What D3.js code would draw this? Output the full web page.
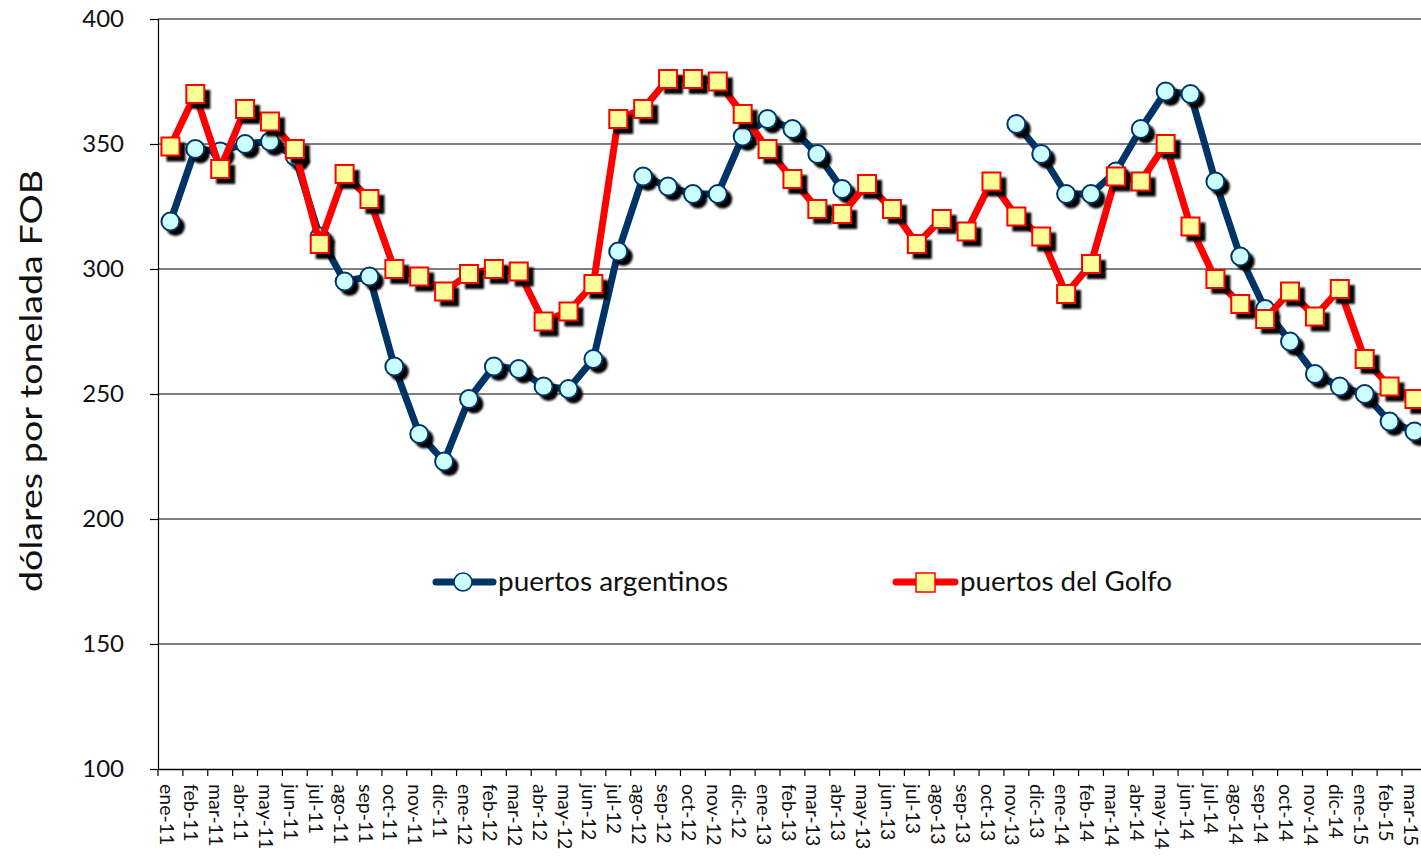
<!DOCTYPE html>
<html><head><meta charset="utf-8">
<script src="https://cdn.jsdelivr.net/npm/d3@7"></script>
<style>
html,body{margin:0;padding:0;background:#fff;overflow:hidden;}
svg{display:block;font-family:Lato,"Open Sans",sans-serif;}
</style></head>
<body>
<svg id="chart" width="1421" height="856"></svg>
<script>
const months = ["ene-11","feb-11","mar-11","abr-11","may-11","jun-11","jul-11","ago-11","sep-11","oct-11","nov-11","dic-11",
"ene-12","feb-12","mar-12","abr-12","may-12","jun-12","jul-12","ago-12","sep-12","oct-12","nov-12","dic-12",
"ene-13","feb-13","mar-13","abr-13","may-13","jun-13","jul-13","ago-13","sep-13","oct-13","nov-13","dic-13",
"ene-14","feb-14","mar-14","abr-14","may-14","jun-14","jul-14","ago-14","sep-14","oct-14","nov-14","dic-14",
"ene-15","feb-15","mar-15"];
const argentinos = [319,348,347,350,351,345,313,295,297,261,234,223,
248,261,260,253,252,264,307,337,333,330,330,353,
360,356,346,332,null,null,null,null,null,null,358,346,
330,330,339,356,371,370,335,305,284,271,258,253,
250,239,235];
const golfo = [349,370,340,364,359,348,310,338,328,300,297,291,
298,300,299,279,283,294,360,364,376,376,375,362,
348,336,324,322,334,324,310,320,315,335,321,313,
290,302,337,335,350,317,296,286,280,291,281,292,
264,253,248];
const yTicks = [100,150,200,250,300,350,400];
const seriesNames = ["puertos argentinos","puertos del Golfo"];

const svg = d3.select("#chart");
const mLeft = 158, mTop = 19, mBottom = 769, step = 24.88;
const x = d3.scaleBand().domain(months).range([mLeft, mLeft + step*months.length]).padding(0);
const y = d3.scaleLinear().domain([100,400]).range([mBottom, mTop]);

const defs = svg.append("defs");
const f = defs.append("filter").attr("id","sh").attr("x","-50%").attr("y","-50%").attr("width","200%").attr("height","200%");
f.append("feGaussianBlur").attr("stdDeviation",0.8);

// gridlines
svg.append("g").selectAll("line").data(yTicks.filter(d=>d>100)).join("line")
  .attr("x1", mLeft).attr("x2", 1421).attr("y1", d=>y(d)).attr("y2", d=>y(d))
  .attr("stroke","#000").attr("stroke-width",1.2);

// y axis
const yAxis = svg.append("g").attr("transform",`translate(${mLeft},0)`)
  .call(d3.axisLeft(y).tickValues(yTicks).tickSize(8).tickPadding(26));
yAxis.select(".domain").attr("stroke","#000").attr("stroke-width",1.2);
yAxis.selectAll(".tick line").attr("stroke","#000").attr("stroke-width",1.2);
yAxis.selectAll("text").attr("font-size",24).attr("fill","#111").attr("font-family","Lato, sans-serif");

// x axis
const xAxis = svg.append("g").attr("transform",`translate(0,${mBottom})`)
  .call(d3.axisBottom(x).tickSize(0));
xAxis.select(".domain").attr("stroke","#000").attr("stroke-width",1.5);
xAxis.selectAll(".tick text")
  .attr("font-size",19.5).attr("fill","#111").attr("font-family","Lato, sans-serif")
  .attr("text-anchor","start").attr("dy",null)
  .attr("transform","translate(-6,15) rotate(90)")
  .attr("x",0).attr("y",0).attr("dominant-baseline","middle");
// boundary ticks
svg.append("g").selectAll("line").data(d3.range(months.length+1)).join("line")
  .attr("x1", i=>mLeft+i*step).attr("x2", i=>mLeft+i*step)
  .attr("y1", mBottom).attr("y2", mBottom+7).attr("stroke","#000").attr("stroke-width",1.2);

// y title
svg.append("text").attr("transform","translate(42,381) rotate(-90)")
  .attr("text-anchor","middle").attr("font-size",31).attr("fill","#111")
  .attr("textLength",422).attr("lengthAdjust","spacingAndGlyphs")
  .text("dólares por tonelada FOB");

const cx = (d,i)=> x(months[i]) + x.bandwidth()/2;
const navy = "#003366", red = "#ff0000";

function drawSeries(data, color, type){
  const g = svg.append("g");
  const line = d3.line().defined(d=>d!==null).x((d,i)=>cx(d,i)).y(d=>y(d));
  g.append("path").attr("d", line(data)).attr("fill","none").attr("stroke",color)
    .attr("stroke-width",7).attr("stroke-linejoin","round").attr("stroke-linecap","round");
  const pts = data.map((d,i)=>({v:d,i})).filter(p=>p.v!==null);
  if(type==="circle"){
    g.append("g").selectAll("circle").data(pts).join("circle")
      .attr("cx",p=>cx(p.v,p.i)+5).attr("cy",p=>y(p.v)+5).attr("r",9.5).attr("fill","#000").attr("filter","url(#sh)");
    g.append("g").selectAll("circle").data(pts).join("circle")
      .attr("cx",p=>cx(p.v,p.i)).attr("cy",p=>y(p.v)).attr("r",9)
      .attr("fill","#ccffff").attr("stroke",navy).attr("stroke-width",2);
  } else {
    const s=18;
    g.append("g").selectAll("rect").data(pts).join("rect")
      .attr("x",p=>cx(p.v,p.i)-s/2+5).attr("y",p=>y(p.v)-s/2+5).attr("width",s+1).attr("height",s+1)
      .attr("fill","#000").attr("filter","url(#sh)");
    g.append("g").selectAll("rect.m").data(pts).join("rect")
      .attr("x",p=>cx(p.v,p.i)-s/2).attr("y",p=>y(p.v)-s/2).attr("width",s).attr("height",s)
      .attr("fill","#ffff99").attr("stroke",red).attr("stroke-width",2);
  }
}
drawSeries(argentinos, navy, "circle");
drawSeries(golfo, red, "square");

// legend
const lg = svg.append("g");
lg.append("line").attr("x1",436).attr("x2",493).attr("y1",582).attr("y2",582)
  .attr("stroke",navy).attr("stroke-width",7).attr("stroke-linecap","round");
lg.append("circle").attr("cx",463).attr("cy",582).attr("r",9).attr("fill","#ccffff").attr("stroke",navy).attr("stroke-width",1.5);
lg.append("text").attr("x",498).attr("y",591).attr("font-size",26).attr("fill","#111")
  .attr("textLength",230).attr("lengthAdjust","spacingAndGlyphs").text(seriesNames[0]);
lg.append("line").attr("x1",896).attr("x2",955).attr("y1",582).attr("y2",582)
  .attr("stroke",red).attr("stroke-width",7).attr("stroke-linecap","round");
lg.append("rect").attr("x",916).attr("y",573).attr("width",19).attr("height",19).attr("fill","#ffff99").attr("stroke",red).attr("stroke-width",1.5);
lg.append("text").attr("x",960).attr("y",591).attr("font-size",26).attr("fill","#111")
  .attr("textLength",212).attr("lengthAdjust","spacingAndGlyphs").text(seriesNames[1]);
</script>
</body></html>
